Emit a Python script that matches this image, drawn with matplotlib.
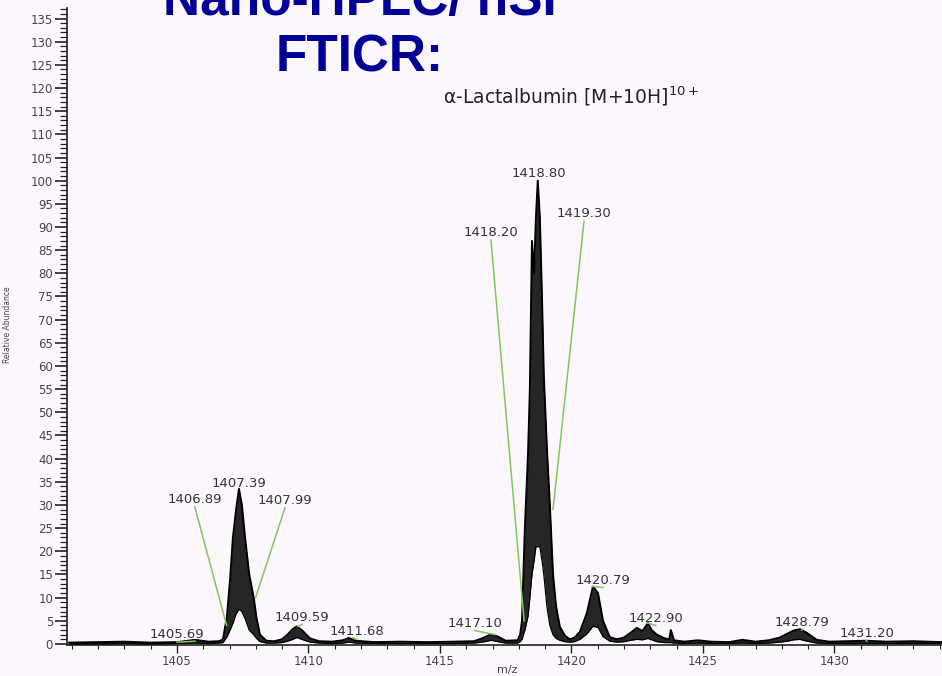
import matplotlib
matplotlib.use("Agg")
import matplotlib.pyplot as plt
from matplotlib.ticker import MultipleLocator

# ---------------- data ----------------
mz = [1400.9, 1402.0, 1403.0, 1404.0, 1405.0, 1405.69, 1406.2, 1406.6, 1406.75,
      1406.90, 1407.02, 1407.13, 1407.25, 1407.36, 1407.47, 1407.59, 1407.75,
      1407.92, 1408.03, 1408.16, 1408.4, 1408.7, 1408.99, 1409.2, 1409.4, 1409.56,
      1409.75, 1410.06, 1410.4, 1410.9, 1411.3, 1411.54, 1411.8, 1412.5, 1413.5,
      1414.5, 1415.5, 1416.3, 1416.6, 1416.95, 1417.2, 1417.5, 1417.95, 1418.05,
      1418.12, 1418.23, 1418.35, 1418.42, 1418.50, 1418.58, 1418.65, 1418.72,
      1418.80, 1418.88, 1418.95, 1419.07, 1419.18, 1419.30, 1419.42, 1419.56,
      1419.75, 1419.94, 1420.12, 1420.32, 1420.59, 1420.70, 1420.82, 1421.01,
      1421.2, 1421.46, 1421.73, 1422.0, 1422.25, 1422.49, 1422.7, 1422.91,
      1423.05, 1423.25, 1423.55, 1423.72, 1423.78, 1423.9, 1424.3, 1424.8,
      1425.3, 1426.0, 1426.5, 1427.0, 1427.5, 1427.93, 1428.2, 1428.45, 1428.69,
      1428.95, 1429.33, 1429.8, 1430.5, 1431.2, 1432.0, 1433.0, 1434.1]
upper = [0.3, 0.4, 0.5, 0.3, 0.4, 0.9, 0.5, 0.6, 1.0,
         5.8, 13.8, 23.0, 29.0, 33.5, 30.0, 23.0, 15.0,
         10.0, 5.5, 2.0, 0.7, 0.6, 1.0, 2.0, 3.2, 3.8,
         3.0, 1.2, 0.6, 0.5, 0.8, 1.3, 0.7, 0.4, 0.5,
         0.4, 0.5, 0.6, 1.2, 2.1, 1.6, 0.7, 0.8, 2.0,
         5.0, 25.0, 41.0, 55.0, 87.0, 80.0, 92.0, 100.0,
         92.0, 75.0, 58.0, 42.0, 30.0, 15.0, 8.0, 3.7,
         1.8, 1.0, 1.4, 2.6, 6.7, 9.5, 12.4, 11.0,
         5.0, 1.5, 1.0, 1.4, 2.4, 3.5, 2.8, 4.5,
         3.0, 2.0, 1.2, 1.0, 3.0, 0.8, 0.5, 0.8,
         0.5, 0.4, 0.9, 0.5, 0.8, 1.4, 2.2, 2.9, 3.2,
         2.4, 0.9, 0.5, 0.6, 0.7, 0.5, 0.6, 0.4]
lower = [0.0, 0.0, 0.1, 0.0, 0.1, 0.2, 0.1, 0.2, 0.3,
         1.5, 3.0, 4.5, 6.5, 7.5, 7.0, 5.5, 3.0,
         2.0, 1.2, 0.5, 0.2, 0.2, 0.3, 0.6, 1.0, 1.4,
         1.0, 0.4, 0.2, 0.1, 0.2, 0.4, 0.2, 0.1, 0.1,
         0.1, 0.1, 0.2, 0.4, 0.8, 0.5, 0.2, 0.2, 0.5,
         1.0, 3.0, 6.0, 10.0, 15.0, 18.0, 21.0, 21.0,
         21.0, 18.0, 15.0, 8.0, 4.0, 2.0, 1.2, 0.8,
         0.5, 0.4, 0.5, 1.0, 2.2, 3.0, 3.8, 3.6,
         1.6, 0.6, 0.4, 0.5, 0.8, 1.0, 0.9, 1.2,
         0.9, 0.5, 0.3, 0.3, 0.3, 0.2, 0.1, 0.2,
         0.1, 0.1, 0.2, 0.1, 0.2, 0.4, 0.6, 0.9, 1.0,
         0.6, 0.2, 0.1, 0.1, 0.1, 0.1, 0.1, 0.1]

peak_labels = ["1405.69", "1406.89", "1407.39", "1407.99", "1409.59", "1411.68",
               "1417.10", "1418.20", "1418.80", "1419.30", "1420.79", "1422.90",
               "1428.79", "1431.20"]
peak_target_int = [0.6, 4.0, 33.5, 10.0, 3.8, 1.3, 2.0, 5.0, 100.0, 29.0,
                   12.4, 4.5, 3.2, 0.7]

title_lines = ["Nano-HPLC/ nSI", "FTICR:"]
subtitle = "α-Lactalbumin [M+10H]$^{10+}$"
x_label = "m/z"
y_label = "Relative Abundance"

# ---------------- layout (label positions in data coords) ----------------
label_pos = {
    "1405.69": (1405.0, 2.0),
    "1406.89": (1405.68, 31.2),
    "1407.39": (1407.36, 34.6),
    "1407.99": (1409.11, 31.0),
    "1409.59": (1409.75, 5.8),
    "1411.68": (1411.84, 2.6),
    "1417.10": (1416.33, 4.5),
    "1418.20": (1416.94, 88.8),
    "1418.80": (1418.76, 101.5),
    "1419.30": (1420.48, 92.9),
    "1420.79": (1421.2, 13.8),
    "1422.90": (1423.21, 5.6),
    "1428.79": (1428.76, 4.6),
    "1431.20": (1431.24, 2.2),
}
draw_line = {"1407.39": False, "1418.80": False}

BG = "#fcf7fc"
GREEN = "#80c85c"
GRAY = "#333333"

fig = plt.figure(figsize=(9.42, 6.76), dpi=100, facecolor=BG)
ax = fig.add_axes([0.0711, 0.0453, 0.9289, 0.9424], facecolor=BG)

ax.fill_between(mz, lower, upper, color="#262626", lw=0, zorder=2)
ax.plot(mz, upper, color="black", lw=1.4, zorder=3)
ax.plot(mz, lower, color="black", lw=0.9, zorder=3)

for lab, tgt in zip(peak_labels, peak_target_int):
    tx, ty = label_pos[lab]
    ax.text(tx, ty, lab, ha="center", va="center", fontsize=9.5,
            color=GRAY, family="DejaVu Sans", zorder=5)
    if draw_line.get(lab, True):
        ax.plot([tx, float(lab)], [ty - 1.6, tgt], color=GREEN, lw=1.1, zorder=4)

ax.set_xlim(1400.82, 1434.09)
ax.set_ylim(-0.3, 137.2)
ax.xaxis.set_major_locator(MultipleLocator(5))
ax.xaxis.set_minor_locator(MultipleLocator(1))
ax.yaxis.set_major_locator(MultipleLocator(5))
ax.yaxis.set_minor_locator(MultipleLocator(1))
ax.tick_params(axis="y", which="major", length=9, width=1.2, color="#222",
               labelsize=8.5, labelcolor="#444", pad=1)
ax.tick_params(axis="y", which="minor", length=5, width=0.9, color="#222")
ax.tick_params(axis="x", which="major", length=6, width=1.0, color="#222",
               labelsize=8.5, labelcolor="#444", pad=1)
ax.tick_params(axis="x", which="minor", length=3, width=0.8, color="#222")
for s in ("top", "right"):
    ax.spines[s].set_visible(False)
for s in ("left", "bottom"):
    ax.spines[s].set_color("#222")
    ax.spines[s].set_linewidth(1.2)

fig.text(0.539, 0.009, x_label, ha="center", va="center", fontsize=8, color="#444")
fig.text(0.008, 0.519, y_label, ha="center", va="center", rotation=90,
         fontsize=5.5, color="#444")

fig.text(0.382, 1 - 15 / 676, title_lines[0], ha="center", va="baseline",
         fontsize=37, fontweight="bold", family="Liberation Sans", color="#000096")
fig.text(0.382, 1 - 72 / 676, title_lines[1], ha="center", va="baseline",
         fontsize=37, fontweight="bold", family="Liberation Sans", color="#000096")
fig.text(0.606, 1 - 96 / 676, subtitle, ha="center", va="center",
         fontsize=13.5, color="#222", family="DejaVu Sans")

fig.savefig("out.png", dpi=100, facecolor=BG)
